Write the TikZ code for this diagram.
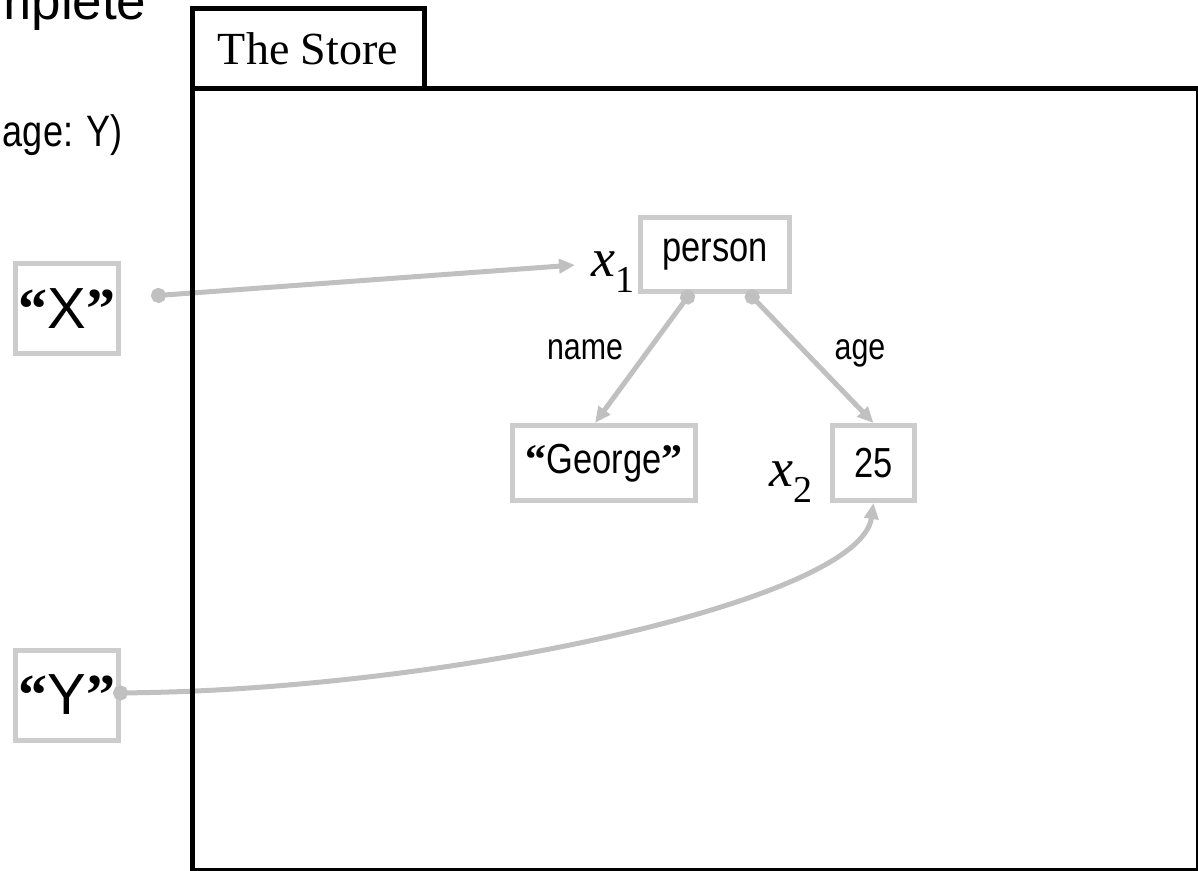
\documentclass[tikz,border=0pt]{standalone}
\usepackage{fontspec}
\setmainfont{Liberation Serif}
\setsansfont{Liberation Sans}
\newfontfamily\narrowsans[FakeStretch=0.82]{Liberation Sans}
\usetikzlibrary{arrows.meta}
\definecolor{linkgray}{HTML}{C0C0C0}
\definecolor{boxgray}{HTML}{CCCCCC}
\newcommand{\qtext}[1]{{\rmfamily\bfseries “}#1{\rmfamily\bfseries ”}}
\newcommand{\xvar}[1]{{\itshape x}\raisebox{-0.3em}{\fontsize{19}{20}\selectfont #1}}
\begin{document}
\begin{tikzpicture}[x=0.5pt,y=-0.5pt,line join=miter,
  valbox/.style={draw=boxgray,line width=2.5pt,inner sep=0pt,font=\narrowsans\fontsize{21}{24}\selectfont},
  quotebox/.style={valbox,minimum width=51.5pt,minimum height=45pt,font=\sffamily\fontsize{29}{32}\selectfont},
  link/.style={draw=linkgray,line width=2.5pt,{Circle[length=7.5pt]}-{Triangle[length=8pt,width=7pt]}},
  frame/.style={draw=black,line width=2.5pt},
  fieldname/.style={anchor=base,font=\narrowsans\fontsize{18.5}{21}\selectfont},
  varname/.style={inner sep=0pt,font=\fontsize{27}{30}\selectfont}]
%%
  \useasboundingbox (0,0) rectangle (1198,871);
  \clip (0,0) rectangle (1198,871);

  \node (node_head) at (-13,20) [anchor=base west,inner sep=0pt,font=\sffamily\fontsize{26.5}{30}\selectfont] {mplete};
  \node (node_sig) at (123,147) [anchor=base east,inner sep=0pt,font=\narrowsans\fontsize{22}{26}\selectfont] {age: Y)};

  \node (node_x) at (67,309) [quotebox] {\qtext{X}};
  \node (node_y) at (67,695) [quotebox] {\qtext{Y}};

  \node (node_person) at (715,254.5) [valbox,minimum width=74.5pt,minimum height=37pt] {person};
  \node (node_george) at (604,463) [valbox,minimum width=91.25pt,minimum height=37.5pt] {\qtext{George}};
  \node (node_25) at (873.5,463) [valbox,minimum width=41pt,minimum height=37.5pt] {25};

  \node (node_x1) at (613,272) [varname] {\xvar{1}};
  \node (node_x2) at (791,482) [varname] {\xvar{2}};
  \node (node_name) at (585,359) [fieldname] {name};
  \node (node_age) at (860,359) [fieldname] {age};

  \coordinate (x_dot) at (151,296);
  \coordinate (x_tip) at (575,265);

  \draw [link] (x_dot) -- (x_tip);
  \draw [link] ([xshift=-11.5pt,yshift=1.5pt]node_person.south) -- ([xshift=-4.5pt]node_george.north);
  \draw [link] ([xshift=16pt,yshift=1.25pt]node_person.south) -- (node_25.north);
  \draw [link] ([xshift=-4pt,yshift=1pt]node_y.east) .. controls (450,690) and (860,600) .. (node_25.south);

  \node (node_store) at (308,49) [frame,minimum width=116pt,minimum height=40pt,inner sep=0pt,font=\fontsize{23}{26}\selectfont] {The Store};
  \draw [frame] (192,89) rectangle (1198,870);
%
\end{tikzpicture}
\end{document}
